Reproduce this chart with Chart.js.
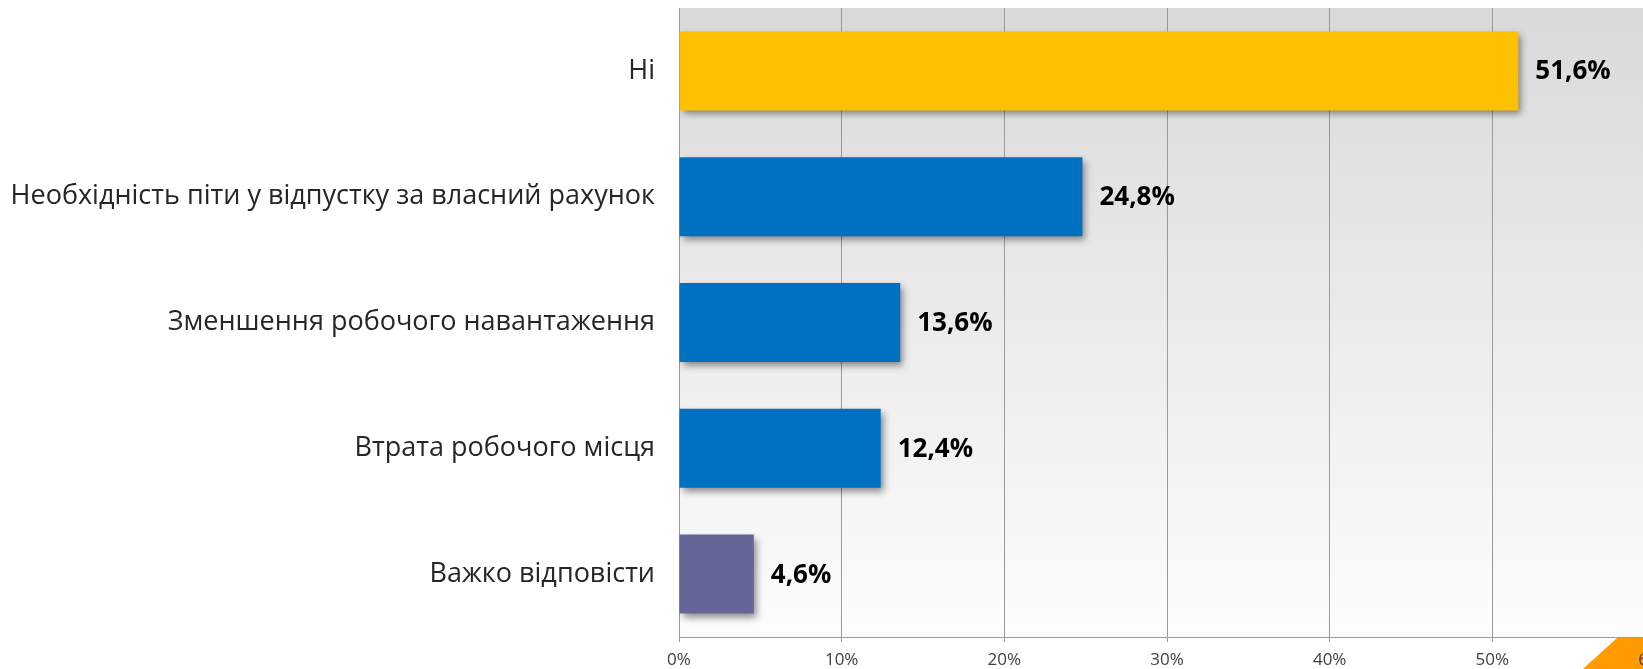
<!DOCTYPE html>
<html>
<head>
<meta charset="utf-8">
<script src="https://cdn.jsdelivr.net/npm/chart.js@4.4.1/dist/chart.umd.min.js"></script>
<style>
  html, body { margin: 0; padding: 0; background: #ffffff; overflow: hidden; }
  #wrap { position: relative; width: 1690px; height: 669px; }
</style>
</head>
<body>
<div id="wrap"><canvas id="c"></canvas></div>
<script>
const categories = [
  "Ні",
  "Необхідність піти у відпустку за власний рахунок",
  "Зменшення робочого навантаження",
  "Втрата робочого місця",
  "Важко відповісти"
];
const values = [51.6, 24.8, 13.6, 12.4, 4.6];
const valueLabels = ["51,6%", "24,8%", "13,6%", "12,4%", "4,6%"];
const barColors = ["#FFC000", "#0070C0", "#0070C0", "#0070C0", "#656597"];
const tickValues = [0, 10, 20, 30, 40, 50, 60];

const FONT = "'Open Sans', 'DejaVu Sans', sans-serif";

const backgroundPlugin = {
  id: 'bgGradient',
  beforeDraw(chart) {
    const { ctx, chartArea } = chart;
    ctx.save();
    const g = ctx.createLinearGradient(0, chartArea.top, 0, chartArea.bottom);
    g.addColorStop(0, '#d9d9d9');
    g.addColorStop(1, '#fdfdfd');
    ctx.fillStyle = g;
    ctx.fillRect(chartArea.left, chartArea.top, chart.width - chartArea.left, chartArea.bottom - chartArea.top);
    // slide decoration (orange corner shape)
    const y0 = chartArea.bottom + 1;
    const H = chart.height;
    const x0 = 1617;
    ctx.beginPath();
    ctx.moveTo(x0, y0);
    ctx.lineTo(chart.width, y0);
    ctx.lineTo(chart.width, H);
    ctx.lineTo(x0 - (H - y0) * 1.1, H);
    ctx.closePath();
    ctx.shadowColor = 'rgba(255,255,255,0.9)';
    ctx.shadowBlur = 6;
    ctx.shadowOffsetX = -3;
    ctx.fillStyle = '#FF9A00';
    ctx.fill();
    ctx.restore();
  }
};

const shadowPlugin = {
  id: 'barShadow',
  beforeDatasetDraw(chart) {
    const ctx = chart.ctx;
    ctx.save();
    ctx.shadowColor = 'rgba(0,0,0,0.45)';
    ctx.shadowBlur = 7;
    ctx.shadowOffsetX = 3;
    ctx.shadowOffsetY = 4;
  },
  afterDatasetDraw(chart) {
    chart.ctx.restore();
  }
};

const valueLabelPlugin = {
  id: 'valueLabels',
  afterDatasetsDraw(chart) {
    const { ctx } = chart;
    const meta = chart.getDatasetMeta(0);
    ctx.save();
    ctx.font = "bold 26px " + FONT;
    ctx.fillStyle = '#000000';
    ctx.textAlign = 'left';
    ctx.textBaseline = 'middle';
    meta.data.forEach((bar, i) => {
      ctx.fillText(valueLabels[i], bar.x + 17, bar.y + 1);
    });
    ctx.restore();
  }
};

new Chart(document.getElementById('c'), {
  type: 'bar',
  data: {
    labels: categories,
    datasets: [{
      data: values,
      backgroundColor: barColors,
      borderWidth: 0,
      categoryPercentage: 1.0,
      barPercentage: 0.628
    }]
  },
  options: {
    indexAxis: 'y',
    responsive: true,
    maintainAspectRatio: false,
    animation: false,
    layout: { padding: { top: 8, right: 35, left: 0, bottom: 0 } },
    plugins: {
      legend: { display: false },
      tooltip: { enabled: false }
    },
    scales: {
      x: {
        min: 0,
        max: 60,
        afterBuildTicks(scale) {
          scale.ticks = tickValues.map(v => ({ value: v }));
        },
        afterFit(scale) { scale.height = 32; },
        grid: {
          color: '#9a9a9a',
          lineWidth: 1,
          drawTicks: true,
          tickLength: 5,
          tickColor: '#9a9a9a'
        },
        border: { display: true, color: '#9a9a9a', width: 1 },
        ticks: {
          padding: 8,
          color: '#404040',
          font: { family: FONT, size: 17 },
          maxRotation: 0,
          autoSkip: false,
          callback: (v) => v + '%'
        }
      },
      y: {
        afterFit(scale) { scale.width = 679; },
        grid: { display: false, drawTicks: true, tickLength: 24 },
        border: { display: true, color: '#9a9a9a', width: 1 },
        ticks: {
          padding: 0,
          color: '#262626',
          font: { family: FONT, size: 27, lineHeight: 0.5 }
        }
      }
    }
  },
  plugins: [backgroundPlugin, shadowPlugin, valueLabelPlugin]
});
</script>
</body>
</html>
